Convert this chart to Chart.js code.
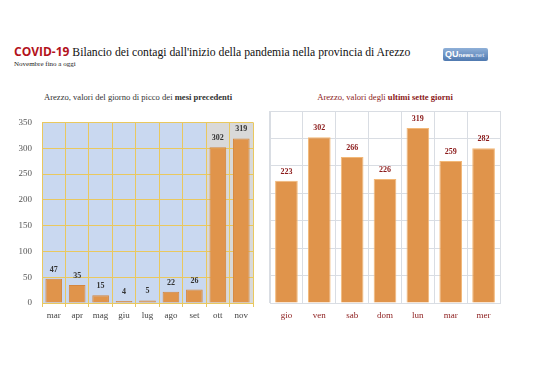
<!DOCTYPE html>
<html>
<head>
<meta charset="utf-8">
<script src="https://cdn.jsdelivr.net/npm/chart.js@4"></script>
<style>
  body { margin: 0; width: 538px; height: 380px; background: #fff; position: relative; overflow: hidden; font-family: "Liberation Serif", serif; }
  .title { position: absolute; left: 14px; top: 43px; font-size: 11.7px; color: #111; white-space: nowrap; }
  .title b { font-family: "Open Sans", "Liberation Sans", sans-serif; color: #b3121b; font-weight: 700; font-size: 12px; }
  .sub { position: absolute; left: 14px; top: 60px; font-size: 7px; color: #222; }
  .logo { position: absolute; left: 443px; top: 48px; width: 45px; height: 13px; background: linear-gradient(#8fb0d8, #4f79b0); border-radius: 2px;
          font-family: "Liberation Sans", sans-serif; color: #fff; font-size: 9px; line-height: 13px; font-weight: 700; padding-left: 2px; box-sizing: border-box; }
  .logo small { font-size: 6px; font-weight: 700; }
  .logo i { font-size: 6px; font-style: normal; color: #c8d8ee; }
  .ctitle { position: absolute; top: 92px; font-size: 8.6px; white-space: nowrap; transform: translateX(-50%); }
  canvas { position: absolute; }
</style>
</head>
<body>
<div class="title"><b>COVID-19</b> Bilancio dei contagi dall'inizio della pandemia nella provincia di Arezzo</div>
<div class="sub">Novembre fino a oggi</div>
<div class="logo">QU<small>news</small><i>.net</i></div>
<div class="ctitle" style="left:138px;color:#333">Arezzo, valori del giorno di picco dei <b>mesi precedenti</b></div>
<div class="ctitle" style="left:385px;color:#8b1a1a">Arezzo, valori degli <b>ultimi sette giorni</b></div>
<canvas id="left" style="left:0;top:107px;width:258px;height:218px" width="258" height="218"></canvas>
<canvas id="right" style="left:265px;top:106px;width:240px;height:219px" width="240" height="219"></canvas>
<script>
// mesi precedenti: picco giornaliero
const mesi = ['mar', 'apr', 'mag', 'giu', 'lug', 'ago', 'set', 'ott', 'nov'];
const piccoMesi = [47, 35, 15, 4, 5, 22, 26, 302, 319];
// ultimi sette giorni
const giorni = ['gio', 'ven', 'sab', 'dom', 'lun', 'mar', 'mer'];
const valoriGiorni = [223, 302, 266, 226, 319, 259, 282];
const yTicks = [0, 50, 100, 150, 200, 250, 300, 350];

const serif = 'Liberation Serif';
const orange = '#e0944b';

// valore sopra ogni barra
const valueLabels = {
    id: 'valueLabels',
    afterDatasetsDraw(chart, args, opts) {
        const ctx = chart.ctx;
        const meta = chart.getDatasetMeta(0);
        ctx.save();
        ctx.font = `bold 8px "${serif}"`;
        ctx.fillStyle = opts.color;
        ctx.textAlign = 'center';
        ctx.textBaseline = 'bottom';
        meta.data.forEach((bar, i) => {
            ctx.fillText(chart.data.datasets[0].data[i], bar.x, bar.y - 5);
        });
        ctx.restore();
    },
};

// sfondo azzurro per i mesi vecchi, grigio per ott/nov
const columnBg = {
    id: 'columnBg',
    beforeDraw(chart) {
        const { ctx, chartArea: a, scales: { x } } = chart;
        const split = x.getPixelForValue(6.5);
        ctx.save();
        ctx.fillStyle = '#c9d8f0';
        ctx.fillRect(a.left, a.top, split - a.left, a.bottom - a.top);
        ctx.fillStyle = '#d9d9d9';
        ctx.fillRect(split, a.top, a.right - split, a.bottom - a.top);
        ctx.restore();
    },
};

new Chart(document.getElementById('left'), {
    type: 'bar',
    data: {
        labels: mesi,
        datasets: [{ data: piccoMesi, backgroundColor: orange, borderColor: '#d4863f', borderWidth: 1, categoryPercentage: 1, barPercentage: 0.71 }],
    },
    options: {
        responsive: false,
        animation: false,
        layout: { padding: { top: 5, right: 5, left: 0, bottom: 0 } },
        plugins: { legend: { display: false }, tooltip: { enabled: false }, valueLabels: { color: '#333' } },
        scales: {
            x: {
                grid: { color: '#e9c85f', offset: true, tickLength: 4 },
                border: { color: '#e9c85f' },
                ticks: { color: '#444', font: { family: serif, size: 9 }, padding: 3 },
                afterFit: (s) => { s.height = 22; },
            },
            y: {
                min: 0, max: 350,
                afterBuildTicks: (s) => { s.ticks = yTicks.map((v) => ({ value: v })); },
                grid: { color: '#e9c85f', drawTicks: false },
                border: { color: '#e9c85f' },
                ticks: { color: '#555', font: { family: serif, size: 9 }, padding: 10 },
                afterFit: (s) => { s.width = 42; },
            },
        },
    },
    plugins: [columnBg, valueLabels],
});

new Chart(document.getElementById('right'), {
    type: 'bar',
    data: {
        labels: giorni,
        datasets: [{ data: valoriGiorni, backgroundColor: orange, borderColor: '#f2b878', borderWidth: 1, categoryPercentage: 1, barPercentage: 0.69 }],
    },
    options: {
        responsive: false,
        animation: false,
        layout: { padding: { top: 5, right: 5, left: 5, bottom: 0 } },
        plugins: { legend: { display: false }, tooltip: { enabled: false }, valueLabels: { color: '#8b1a1a' } },
        scales: {
            x: {
                grid: { color: '#d9dde3', offset: true, drawTicks: false },
                border: { color: '#d9dde3' },
                ticks: { color: '#8b1a1a', font: { family: serif, size: 9 }, padding: 7 },
                afterFit: (s) => { s.height = 22; },
            },
            y: {
                min: 0, max: 350, display: true,
                afterBuildTicks: (s) => { s.ticks = yTicks.map((v) => ({ value: v })); },
                grid: { color: '#d9dde3', drawTicks: false },
                border: { color: '#d9dde3' },
                ticks: { display: false },
                afterFit: (s) => { s.width = 0; },
            },
        },
    },
    plugins: [valueLabels],
});
</script>
</body>
</html>
